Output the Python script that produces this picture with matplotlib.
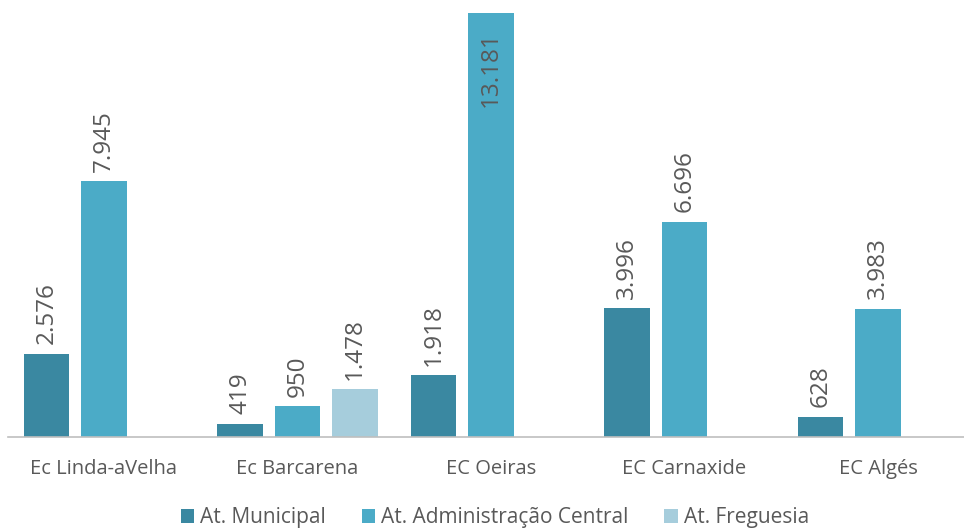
import numpy as np
import matplotlib
matplotlib.use("Agg")
import matplotlib.pyplot as plt

# dados
escolas = ["Ec Linda-aVelha", "Ec Barcarena", "EC Oeiras", "EC Carnaxide", "EC Algés"]
municipal = [2576, 419, 1918, 3996, 628]
adm_central = [7945, 950, 13181, 6696, 3983]
freguesia = [np.nan, 1478, np.nan, np.nan, np.nan]

series = [
    ("At. Municipal", municipal, "#3A88A1"),
    ("At. Administração Central", adm_central, "#4BABC7"),
    ("At. Freguesia", freguesia, "#A6CDDC"),
]

plt.rcParams['font.family'] = ['Open Sans', 'DejaVu Sans']
cinza = "#595959"

fig = plt.figure(figsize=(9.64, 5.31), dpi=100)
ax = fig.add_axes([8 / 964, 94 / 531, 956 / 964, 424 / 531])

x = np.arange(len(escolas))
passo = 0.297
larg = 0.233
ymax = max(adm_central)

for i, (nome, vals, cor) in enumerate(series):
    pos = x + (i - 1) * passo
    ax.bar(pos, vals, larg, color=cor, label=nome)
    for p, v in zip(pos, vals):
        if np.isnan(v):
            continue
        txt = f"{int(v):,}".replace(",", ".")
        if v >= ymax * 0.95:
            # rótulo não cabe acima -> dentro da barra
            ax.annotate(txt, (p, v), xytext=(0, -13), textcoords="offset points",
                        rotation=90, ha="center", va="top", color=cinza, fontsize=17.5)
        else:
            ax.annotate(txt, (p, v), xytext=(0, 7), textcoords="offset points",
                        rotation=90, ha="center", va="bottom", color=cinza, fontsize=17.5)

ax.set_xlim((8 - 104) / 193.5, (964 - 104) / 193.5)
ax.set_ylim(0, ymax)
ax.set_xticks(x)
ax.set_xticklabels(escolas, fontsize=14.5, color=cinza)
ax.tick_params(axis="x", length=0, pad=16)
ax.set_yticks([])
for s in ["top", "right", "left"]:
    ax.spines[s].set_visible(False)
ax.spines["bottom"].set_color("#BFBFBF")
ax.spines["bottom"].set_linewidth(1.2)

fig.legend(loc="center", bbox_to_anchor=(495 / 964, 1 - 518 / 531), ncol=3, frameon=False,
           fontsize=15, labelcolor=cinza, handlelength=0.65, handleheight=0.65,
           handletextpad=0.3, columnspacing=1.7)

fig.savefig("out.png", dpi=100)
